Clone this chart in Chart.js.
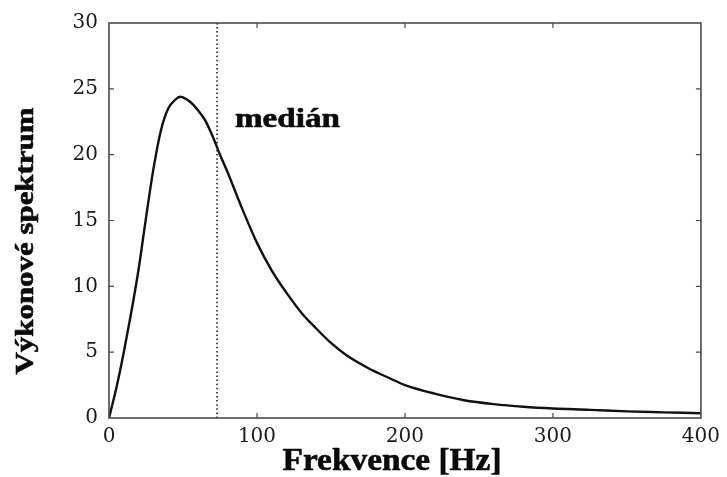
<!DOCTYPE html>
<html>
<head>
<meta charset="utf-8">
<script src="https://cdn.jsdelivr.net/npm/chart.js@4.4.1/dist/chart.umd.min.js"></script>
<style>
  html, body { margin: 0; padding: 0; background: #fff; }
  #wrap { width: 727px; height: 477px; }
</style>
</head>
<body>
<div id="wrap"><canvas id="spectrum"></canvas></div>
<script>
// power spectrum samples (Hz -> power)
const freqHz = [0, 5, 10, 15, 20, 25, 30, 35, 40, 45, 48, 50, 55, 60, 65, 70, 75, 80,
    90, 100, 110, 120, 130, 140, 150, 160, 175, 190, 200, 220, 240, 260, 280, 300,
    325, 350, 375, 400];
const power = [0, 2.3, 5.0, 8.0, 11.3, 15.2, 18.9, 21.8, 23.5, 24.2, 24.4, 24.35, 24.0, 23.4, 22.6, 21.4, 20.0, 18.7,
    15.9, 13.3, 11.2, 9.5, 8.0, 6.8, 5.7, 4.8, 3.8, 3.0, 2.5, 1.85, 1.35, 1.05, 0.85, 0.72,
    0.62, 0.5, 0.43, 0.36];
const medianHz = 73;
const xTicks = [0, 100, 200, 300, 400];
const yTicks = [0, 5, 10, 15, 20, 25, 30];

const xTitle = "Frekvence [Hz]";
const yTitle = "Výkonové spektrum";
const medianLabel = "medián";

// draws heavy text stretched to a given width
function stretchedText(ctx, text, x, y, width, angle) {
    ctx.save();
    ctx.translate(x, y);
    ctx.rotate(angle);
    ctx.scale(width / ctx.measureText(text).width, 1);
    ctx.strokeText(text, 0, 0);
    ctx.fillText(text, 0, 0);
    ctx.restore();
}

// box frame, inward tick marks and the text labels
const framePlugin = {
    id: "frame",
    afterDatasetsDraw(chart) {
        const { ctx, chartArea: a, scales: { x, y } } = chart;
        ctx.save();
        ctx.strokeStyle = "#4a4a4a";
        ctx.lineWidth = 1.6;
        ctx.strokeRect(a.left, a.top, a.right - a.left, a.bottom - a.top);

        ctx.lineWidth = 1.2;
        ctx.beginPath();
        xTicks.slice(1, -1).forEach(v => {
            const px = x.getPixelForValue(v);
            ctx.moveTo(px, a.bottom); ctx.lineTo(px, a.bottom - 5);
            ctx.moveTo(px, a.top); ctx.lineTo(px, a.top + 5);
        });
        yTicks.slice(1, -1).forEach(v => {
            const py = y.getPixelForValue(v);
            ctx.moveTo(a.left, py); ctx.lineTo(a.left + 5, py);
            ctx.moveTo(a.right, py); ctx.lineTo(a.right - 5, py);
        });
        ctx.stroke();

        ctx.fillStyle = "#0a0a0a";
        ctx.strokeStyle = "#0a0a0a";
        ctx.lineWidth = 0.6;
        ctx.lineJoin = "round";
        ctx.textBaseline = "alphabetic";
        ctx.textAlign = "left";
        ctx.font = "bold 27px 'Liberation Serif', serif";
        stretchedText(ctx, medianLabel, 235, 127, 105, 0);

        ctx.textAlign = "center";
        ctx.font = "bold 32px 'Liberation Serif', serif";
        stretchedText(ctx, xTitle, 392, 470, 219, 0);

        ctx.font = "bold 25px 'Liberation Serif', serif";
        ctx.textBaseline = "middle";
        stretchedText(ctx, yTitle, 27, 241, 267, -Math.PI / 2);
        ctx.restore();
    }
};

const tickFont = { family: "'DejaVu Serif', serif", size: 20 };

new Chart(document.getElementById("spectrum"), {
    type: "line",
    data: {
        datasets: [
            {
                data: freqHz.map((f, i) => ({ x: f, y: power[i] })),
                borderColor: "#111",
                borderWidth: 2.4,
                pointRadius: 0,
                cubicInterpolationMode: "monotone",
                fill: false
            },
            {
                data: [{ x: medianHz, y: 0 }, { x: medianHz, y: 30 }],
                borderColor: "#222",
                borderWidth: 1.6,
                borderDash: [1.5, 2.6],
                pointRadius: 0,
                fill: false
            }
        ]
    },
    options: {
        responsive: true,
        maintainAspectRatio: false,
        animation: false,
        layout: { padding: { top: 21, right: 23, left: 0, bottom: 0 } },
        plugins: { legend: { display: false }, tooltip: { enabled: false } },
        scales: {
            x: {
                type: "linear",
                min: 0, max: 400,
                afterBuildTicks: s => { s.ticks = xTicks.map(v => ({ value: v })); },
                afterFit: s => { s.height = 59; },
                grid: { display: false, drawTicks: false },
                border: { display: false },
                ticks: { font: tickFont, color: "#1a1a1a", padding: 7, maxRotation: 0 }
            },
            y: {
                min: 0, max: 30,
                afterBuildTicks: s => { s.ticks = yTicks.map(v => ({ value: v })); },
                afterFit: s => { s.width = 109; },
                grid: { display: false, drawTicks: false },
                border: { display: false },
                ticks: { font: tickFont, color: "#1a1a1a", padding: 11 }
            }
        }
    },
    plugins: [framePlugin]
});
</script>
</body>
</html>
